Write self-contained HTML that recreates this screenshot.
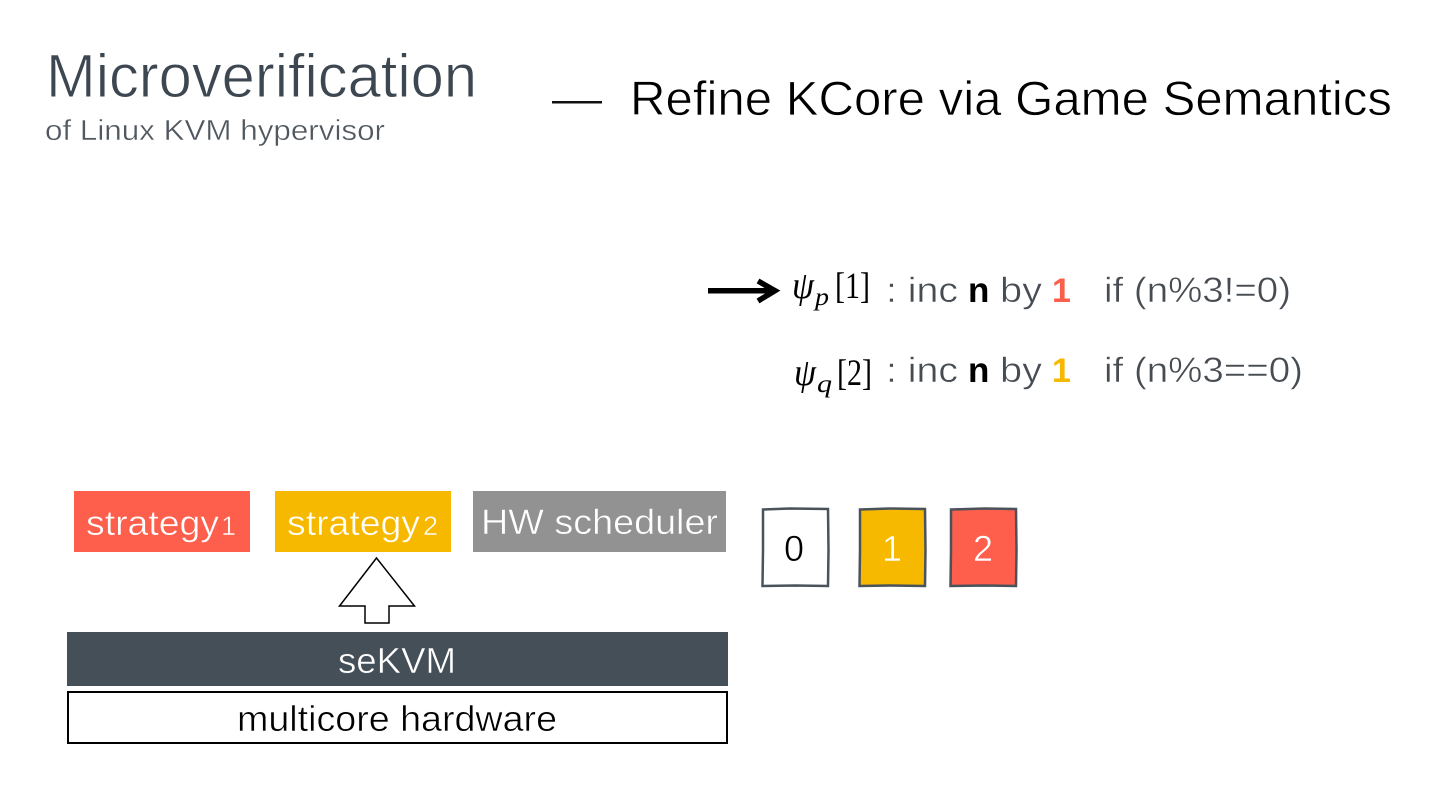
<!DOCTYPE html>
<html><head><meta charset="utf-8"><style>
html,body{margin:0;padding:0;background:#fff;width:1440px;height:810px;overflow:hidden}
svg{display:block}
text{font-family:"Liberation Sans",sans-serif}
.m{font-family:"Liberation Serif",serif}
.w{stroke:#fff;stroke-width:.55}
.r{stroke:#fd5f4c;stroke-width:.5}
.y{stroke:#f7b900;stroke-width:.5}
.g{stroke:#929292;stroke-width:.5}
.d{stroke:#454f58;stroke-width:.5}
</style></head><body>
<svg width="1440" height="810" viewBox="0 0 1440 810" xmlns="http://www.w3.org/2000/svg">
<rect width="1440" height="810" fill="#fff"/>
<text class="w" style="stroke-width:.9" x="46" y="97" font-size="61" fill="#3d4751" textLength="431" lengthAdjust="spacingAndGlyphs">Microverification</text>
<text class="w" style="stroke-width:.4" x="45" y="140" font-size="29" fill="#50575e" textLength="340" lengthAdjust="spacingAndGlyphs">of Linux KVM hypervisor</text>
<rect x="552" y="101" width="50" height="2.500" fill="#111"/>
<text class="w" style="stroke-width:.7" x="630" y="115" font-size="48" fill="#000" textLength="762" lengthAdjust="spacingAndGlyphs">Refine KCore via Game Semantics</text>

<path d="M708 290.700H773" stroke="#000" stroke-width="5.500" fill="none"/>
<path d="M758 281L775 290.700L758 301" stroke="#000" stroke-width="5.500" fill="none"/>

<text class="m" x="792" y="298" font-size="38" font-style="italic" fill="#000" textLength="22" lengthAdjust="spacingAndGlyphs">ψ</text>
<text class="m" x="815" y="305" font-size="25" font-style="italic" fill="#000" textLength="14" lengthAdjust="spacingAndGlyphs">p</text>
<text class="m" x="835" y="298" font-size="37" fill="#000" textLength="35" lengthAdjust="spacingAndGlyphs">[1]</text>
<text class="w" style="stroke-width:.5" x="886" y="302" font-size="35" fill="#464c52" textLength="72" lengthAdjust="spacingAndGlyphs">: inc</text>
<text x="968" y="302" font-size="35" font-weight="bold" fill="#000">n</text>
<text class="w" style="stroke-width:.5" x="1000" y="302" font-size="35" fill="#464c52" textLength="42" lengthAdjust="spacingAndGlyphs">by</text>
<text x="1052" y="302" font-size="34" font-weight="bold" fill="#fb5e4b">1</text>
<text class="w" style="stroke-width:.5" x="1104" y="302" font-size="35" fill="#464c52" textLength="187" lengthAdjust="spacingAndGlyphs">if (n%3!=0)</text>

<text class="m" x="794" y="385" font-size="38" font-style="italic" fill="#000" textLength="22" lengthAdjust="spacingAndGlyphs">ψ</text>
<text class="m" x="817" y="392" font-size="25" font-style="italic" fill="#000" textLength="15" lengthAdjust="spacingAndGlyphs">q</text>
<text class="m" x="837" y="385" font-size="37" fill="#000" textLength="35" lengthAdjust="spacingAndGlyphs">[2]</text>
<text class="w" style="stroke-width:.5" x="886" y="382" font-size="35" fill="#464c52" textLength="72" lengthAdjust="spacingAndGlyphs">: inc</text>
<text x="968" y="382" font-size="35" font-weight="bold" fill="#000">n</text>
<text class="w" style="stroke-width:.5" x="1000" y="382" font-size="35" fill="#464c52" textLength="42" lengthAdjust="spacingAndGlyphs">by</text>
<text x="1052" y="382" font-size="34" font-weight="bold" fill="#f7b900">1</text>
<text class="w" style="stroke-width:.5" x="1104" y="382" font-size="35" fill="#464c52" textLength="199" lengthAdjust="spacingAndGlyphs">if (n%3==0)</text>

<rect x="74" y="491" width="176" height="61" fill="#fd5f4c"/>
<text class="r" x="86" y="535" font-size="35" fill="#fff" textLength="133" lengthAdjust="spacingAndGlyphs">strategy</text>
<text class="r" x="221" y="535" font-size="27" fill="#fff">1</text>
<rect x="275" y="491" width="176" height="61" fill="#f7b900"/>
<text class="y" x="287" y="535" font-size="35" fill="#fff" textLength="133" lengthAdjust="spacingAndGlyphs">strategy</text>
<text class="y" x="423" y="535" font-size="27" fill="#fff">2</text>
<rect x="473" y="491" width="253" height="61" fill="#929292"/>
<text class="g" x="481" y="534" font-size="35" fill="#fff" textLength="237" lengthAdjust="spacingAndGlyphs">HW scheduler</text>

<path d="M376.500 558L339.500 606H365V623H389V606H414.500Z" fill="#fff" stroke="#000" stroke-width="1.500"/>

<rect x="67" y="632" width="661" height="54" fill="#454f58"/>
<text class="d" x="397" y="673" font-size="36" fill="#fff" text-anchor="middle" textLength="118" lengthAdjust="spacingAndGlyphs">seKVM</text>
<rect x="68" y="692" width="659" height="51" fill="#fff" stroke="#000" stroke-width="2"/>
<text class="w" x="397" y="731" font-size="36" fill="#000" text-anchor="middle" textLength="320" lengthAdjust="spacingAndGlyphs">multicore hardware</text>

<path d="M763 509.500L790 508.500L828 509L828.500 550L828 586L795 585.500L762.500 586L763 550Z" fill="#fff" stroke="#4a525a" stroke-width="2.500"/>
<path d="M860 509.500L890 508.500L925 509L925.500 550L925 586L890 585.500L859.500 586L860 550Z" fill="#f7b900" stroke="#4a525a" stroke-width="2.500"/>
<path d="M951 509.500L985 508.500L1016 509L1016.500 550L1016 586L985 585.500L950.500 586L951 550Z" fill="#fd5f4c" stroke="#4a525a" stroke-width="2.500"/>
<text class="w" x="794" y="561" font-size="36" fill="#000" text-anchor="middle">0</text>
<text class="y" x="892" y="561" font-size="36" fill="#fff" text-anchor="middle">1</text>
<text class="r" x="983" y="561" font-size="36" fill="#fff" text-anchor="middle">2</text>
</svg>
</body></html>
